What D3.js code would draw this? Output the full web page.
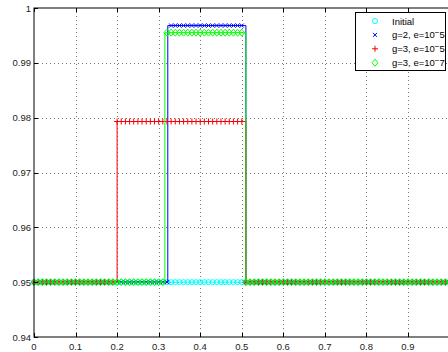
<!DOCTYPE html>
<html><head><meta charset="utf-8">
<script src="https://cdn.jsdelivr.net/npm/d3@7"></script>
<style>body{margin:0;background:#fff}svg{display:block}text{font-family:"Liberation Sans",Arial,sans-serif}</style>
</head><body>
<svg id="c" width="448" height="352"></svg>
<script>
// x positions of the samples (cell grid)
const gridX = d3.range(0, 101).map(i => i / 100);
const xTicks = [0, 0.1, 0.2, 0.3, 0.4, 0.5, 0.6, 0.7, 0.8, 0.9];
const yTicks = [0.94, 0.95, 0.96, 0.97, 0.98, 0.99, 1];
// piecewise-constant profiles: breakpoints and level on each piece
const initialBreaks = [0, 1];
const initialLevels = [0.95];
const g2e5Breaks = [0, 0.322, 0.51, 1];
const g2e5Levels = [0.95, 0.9968, 0.95];
const g3e5Breaks = [0, 0.2, 0.51, 1];
const g3e5Levels = [0.95, 0.9793, 0.95];
const g3e7Breaks = [0, 0.315, 0.51, 1];
const g3e7Levels = [0.95, 0.9955, 0.95];

const svg = d3.select("#c");
const x = d3.scaleLinear().domain([0, 1]).range([34, 449.5]);
const y = d3.scaleLinear().domain([0.94, 1]).range([337, 8]);

// grid
const grid = svg.append("g").attr("stroke", "#777").attr("stroke-dasharray", "1,3").attr("stroke-width", 1);
xTicks.slice(1).forEach(t => grid.append("line").attr("x1", Math.round(x(t)) + 0.5).attr("x2", Math.round(x(t)) + 0.5).attr("y1", y(1)).attr("y2", y(0.94)));
yTicks.slice(1, -1).forEach(t => grid.append("line").attr("x1", x(0)).attr("x2", x(1)).attr("y1", Math.round(y(t)) + 0.5).attr("y2", Math.round(y(t)) + 0.5));

function profile(breaks, levels) {
  const pts = [];
  for (let i = 0; i < levels.length; i++) { pts.push([breaks[i], levels[i]]); pts.push([breaks[i + 1], levels[i]]); }
  return pts;
}
function valueAt(breaks, levels, v) {
  for (let i = 0; i < levels.length; i++) if (v < breaks[i + 1] || i === levels.length - 1) return levels[i];
}
const line = d3.line().x(d => x(d[0])).y(d => y(d[1]));

const series = [
  {name: "Initial", breaks: initialBreaks, levels: initialLevels, color: "#00ffff", marker: "circle"},
  {name: "g2", breaks: g2e5Breaks, levels: g2e5Levels, color: "#0000ff", marker: "x"},
  {name: "g3e5", breaks: g3e5Breaks, levels: g3e5Levels, color: "#ff0000", marker: "plus"},
  {name: "g3e7", breaks: g3e7Breaks, levels: g3e7Levels, color: "#00ff00", marker: "diamond"}
];

function drawMarker(g, type, cx, cy, color) {
  if (type === "circle") g.append("circle").attr("cx", cx).attr("cy", cy).attr("r", 2.5).attr("fill", "none").attr("stroke", color);
  else if (type === "x") g.append("path").attr("d", `M${cx-2},${cy-2}L${cx+2},${cy+2}M${cx-2},${cy+2}L${cx+2},${cy-2}`).attr("stroke", color).attr("fill", "none");
  else if (type === "plus") g.append("path").attr("d", `M${cx-3},${cy}L${cx+3},${cy}M${cx},${cy-3}L${cx},${cy+3}`).attr("stroke", color).attr("fill", "none");
  else if (type === "diamond") g.append("path").attr("d", `M${cx},${cy-3.5}L${cx+3},${cy}L${cx},${cy+3.5}L${cx-3},${cy}Z`).attr("stroke", color).attr("fill", "none");
}

const plot = svg.append("g");
series.forEach(s => {
  plot.append("path").attr("d", line(profile(s.breaks, s.levels))).attr("fill", "none").attr("stroke", s.color).attr("stroke-width", 1);
  const mg = plot.append("g");
  gridX.forEach(v => drawMarker(mg, s.marker, x(v), y(valueAt(s.breaks, s.levels, v)), s.color));
});

// axes box
const ax = svg.append("g").attr("stroke", "#000").attr("fill", "none");
ax.append("rect").attr("x", x(0)).attr("y", y(1)).attr("width", x(1) - x(0)).attr("height", y(0.94) - y(1)).attr("stroke-width", 1);
xTicks.forEach(t => {
  const px = Math.round(x(t)) + 0.5;
  ax.append("line").attr("x1", px).attr("x2", px).attr("y1", y(0.94)).attr("y2", y(0.94) - 4);
  ax.append("line").attr("x1", px).attr("x2", px).attr("y1", y(1)).attr("y2", y(1) + 4);
});
yTicks.forEach(t => {
  const py = Math.round(y(t)) + 0.5;
  ax.append("line").attr("x1", x(0)).attr("x2", x(0) + 4).attr("y1", py).attr("y2", py);
});
const lab = svg.append("g").attr("font-size", 9.5).attr("fill", "#222");
xTicks.forEach(t => lab.append("text").attr("x", x(t)).attr("y", 350).attr("text-anchor", "middle").text(t === 0 ? "0" : t.toFixed(1)));
yTicks.forEach(t => lab.append("text").attr("x", 31).attr("y", y(t) + 3.5).attr("text-anchor", "end").text(t === 1 ? "1" : t.toFixed(2)));

// legend
const legendLabels = [["Initial", null, null], ["g=2, e=10", "\u2212", "5"], ["g=3, e=10", "\u2212", "5"], ["g=3, e=10", "\u2212", "7"]];
const lg = svg.append("g");
lg.append("rect").attr("x", 355.5).attr("y", 12.5).attr("width", 90).attr("height", 58).attr("fill", "#fff").attr("stroke", "#000");
series.forEach((s, i) => {
  const cy = 21 + i * 13.9;
  drawMarker(lg, s.marker, 375, cy, s.color);
  const t = lg.append("text").attr("x", 392).attr("y", cy + 3.5).attr("font-size", 9.5).attr("fill", "#000");
  const L = legendLabels[i];
  t.append("tspan").text(L[0]);
  if (L[1]) {
    t.append("tspan").attr("dy", -3).attr("font-size", 8).text(L[1]);
    t.append("tspan").attr("dy", 3).text(L[2]);
  }
});
</script>
</body></html>
